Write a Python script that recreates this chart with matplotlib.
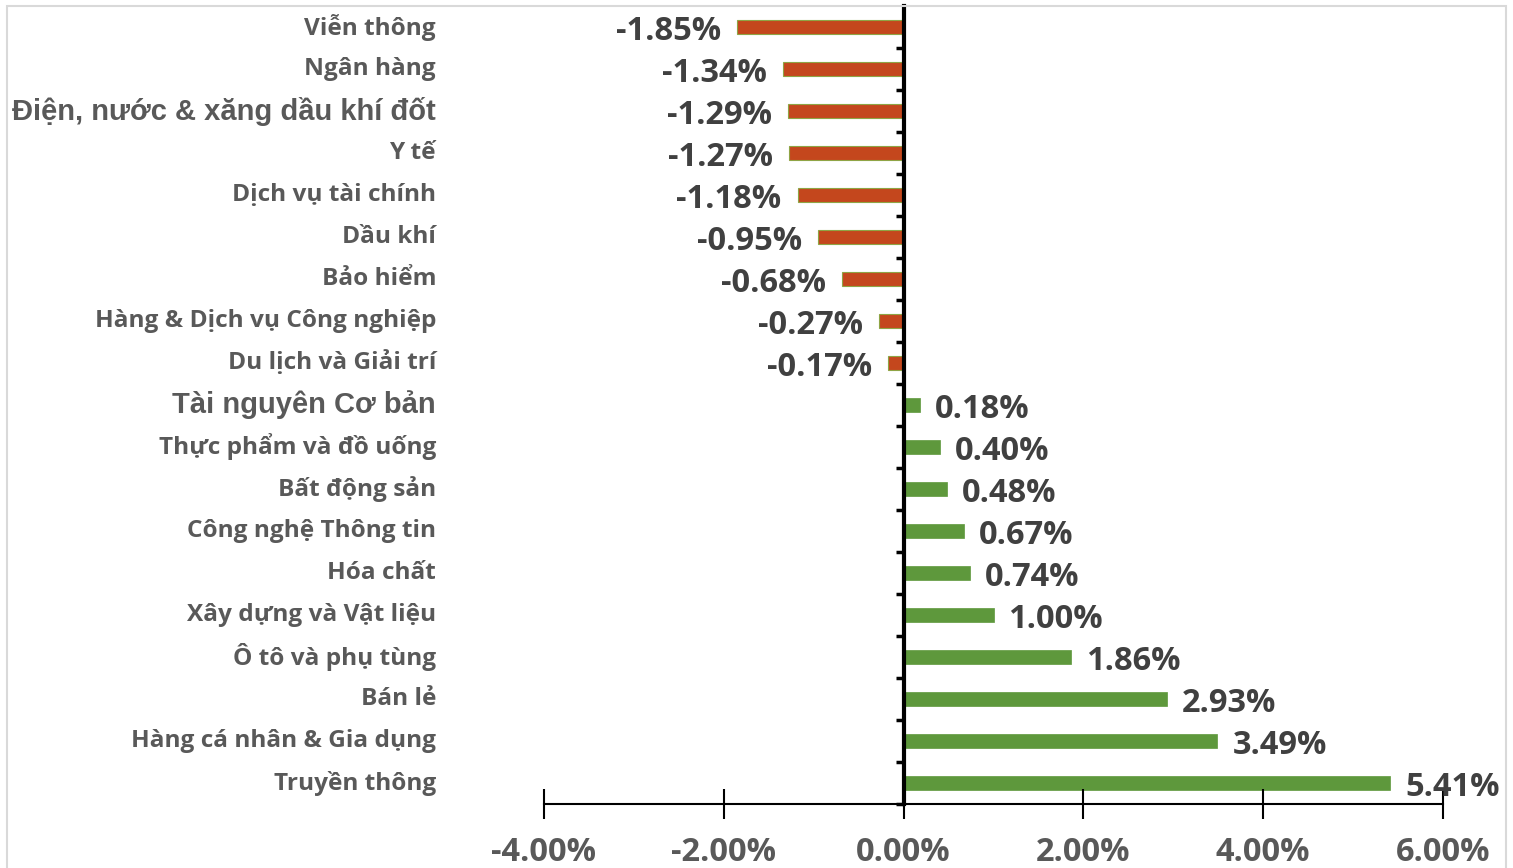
"""
Biến động giá cổ phiếu theo ngành - biểu đồ thanh ngang
"""

import matplotlib

matplotlib.use("Agg")
import matplotlib.pyplot as plt
import matplotlib.transforms as mtransforms
from matplotlib.patches import Rectangle

# dữ liệu
nganh = [
    "Viễn thông",
    "Ngân hàng",
    "Điện, nước & xăng dầu khí đốt",
    "Y tế",
    "Dịch vụ tài chính",
    "Dầu khí",
    "Bảo hiểm",
    "Hàng & Dịch vụ Công nghiệp",
    "Du lịch và Giải trí",
    "Tài nguyên Cơ bản",
    "Thực phẩm và đồ uống",
    "Bất động sản",
    "Công nghệ Thông tin",
    "Hóa chất",
    "Xây dựng và Vật liệu",
    "Ô tô và phụ tùng",
    "Bán lẻ",
    "Hàng cá nhân & Gia dụng",
    "Truyền thông",
]
thay_doi = [
    -1.85, -1.34, -1.29, -1.27, -1.18, -0.95, -0.68, -0.27, -0.17,
    0.18, 0.40, 0.48, 0.67, 0.74, 1.00, 1.86, 2.93, 3.49, 5.41,
]
x_ticks = [-4, -2, 0, 2, 4, 6]
# hai nhãn này dùng phông Arial trong bản gốc
nhan_arial = ["Điện, nước & xăng dầu khí đốt", "Tài nguyên Cơ bản"]

FONT_CAL = ["Open Sans", "DejaVu Sans"]
FONT_ARIAL = ["Liberation Sans", "DejaVu Sans"]
XAM = "#595959"
XAM_DAM = "#404040"
DO = "#C4471D"
XANH = "#5E983C"

W, H = 1513, 868
fig = plt.figure(figsize=(W / 100, H / 100), dpi=100)
ax = fig.add_axes([544 / W, 1 - 804 / H, (1443 - 544) / W, (804 - 6) / H])

for i, v in enumerate(thay_doi):
    if v < 0:
        ax.barh(i, v, height=0.31, color=DO, edgecolor="#8FA445", linewidth=0.8)
    else:
        ax.barh(i, v, height=0.31, color=XANH, edgecolor=XANH, linewidth=0.5)

ax.set_xlim(-4, 6)
ax.set_ylim(len(nganh) - 0.5, -0.5)

# trục
for s in ["top", "right"]:
    ax.spines[s].set_visible(False)
ax.spines["left"].set_position(("data", 0))
ax.spines["left"].set_linewidth(3)
ax.spines["left"].set_zorder(5)
ax.spines["bottom"].set_linewidth(1.5)

ax.set_yticks([])
ax.set_yticks([k - 0.5 for k in range(1, len(nganh) + 1)], minor=True)
ax.tick_params(axis="y", which="minor", direction="out", length=6, width=2.5)

ax.set_xticks(x_ticks)
ax.set_xticklabels(["%.2f%%" % t for t in x_ticks])
ax.tick_params(axis="x", direction="inout", length=22, width=1.5, pad=12,
               labelsize=23.5, labelcolor=XAM)
for lb in ax.get_xticklabels():
    lb.set_fontfamily(FONT_CAL)
    lb.set_fontweight("bold")

# nhãn danh mục bên trái
trans = mtransforms.blended_transform_factory(fig.transFigure, ax.transData)
for i, ten in enumerate(nganh):
    if ten in nhan_arial:
        ax.text(436 / W, i, ten, transform=trans, ha="right", va="center",
                fontsize=21, fontweight="bold", color=XAM, family=FONT_ARIAL)
    else:
        ax.text(436 / W, i, ten, transform=trans, ha="right", va="center",
                fontsize=17.6, fontweight="bold", color=XAM, family=FONT_CAL)

# nhãn giá trị
for i, v in enumerate(thay_doi):
    if v < 0:
        ax.annotate("%.2f%%" % v, xy=(v, i), xytext=(-16, -4),
                    textcoords="offset pixels", ha="right", va="center",
                    fontsize=23.5, fontweight="bold", color=XAM_DAM,
                    family=FONT_CAL)
    else:
        ax.annotate("%.2f%%" % v, xy=(v, i), xytext=(15, -4),
                    textcoords="offset pixels", ha="left", va="center",
                    fontsize=23.5, fontweight="bold", color=XAM_DAM,
                    family=FONT_CAL)

# khung viền biểu đồ
fig.patches.append(Rectangle((7 / W, -0.01), (1506 - 7) / W, 1 - 6 / H + 0.01,
                             transform=fig.transFigure, fill=False,
                             edgecolor="#D9D9D9", linewidth=1.5))

fig.savefig("out.png", dpi=100)
